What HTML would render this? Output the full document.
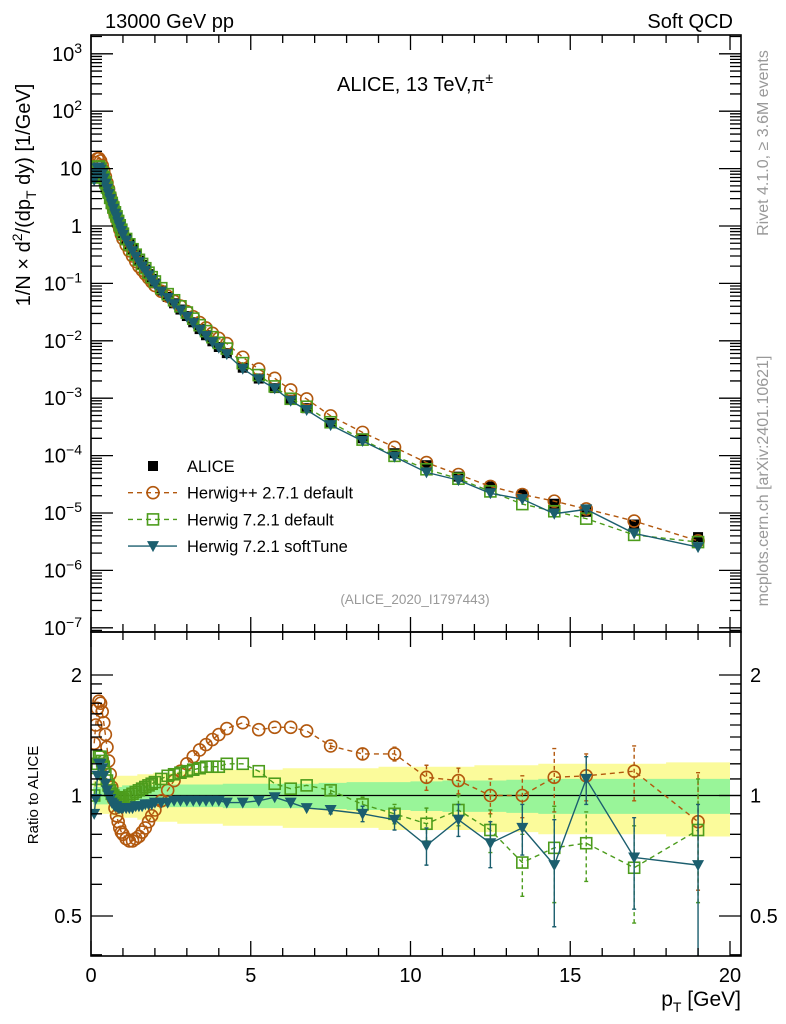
<!DOCTYPE html>
<html><head><meta charset="utf-8"><style>
html,body{margin:0;padding:0;background:#fff;}
svg{display:block;font-family:"Liberation Sans",sans-serif;}
</style></head><body>
<svg id="chart" width="786" height="1024" viewBox="0 0 786 1024" xmlns="http://www.w3.org/2000/svg">
<defs>
<clipPath id="clipTop"><rect x="91" y="35" width="650" height="597"/></clipPath>
<clipPath id="clipBot"><rect x="91" y="632" width="650" height="324"/></clipPath>
</defs>
<g id="bands" clip-path="url(#clipBot)"></g>
<g id="series-top" clip-path="url(#clipTop)"></g>
<g id="series-bot" clip-path="url(#clipBot)"></g>
<g id="axes"></g>
<text x="105" y="28" font-size="20">13000 GeV pp</text>
<text x="733" y="28" font-size="20" text-anchor="end">Soft QCD</text>
<text x="415" y="91" font-size="20" text-anchor="middle">ALICE, 13 TeV,π<tspan font-size="14" dy="-8">±</tspan></text>
<text transform="translate(30,195) rotate(-90)" font-size="20" text-anchor="middle">1/N × d<tspan font-size="14" dy="-8">2</tspan><tspan dy="8">/(dp</tspan><tspan font-size="14" dy="6">T</tspan><tspan dy="-6"> dy) [1/GeV]</tspan></text>
<text transform="translate(38,795) rotate(-90)" font-size="15" text-anchor="middle">Ratio to ALICE</text>
<text x="741" y="1006" font-size="21" text-anchor="end">p<tspan font-size="14" dy="6">T</tspan><tspan dy="-6"> [GeV]</tspan></text>
<text transform="translate(768,143) rotate(-90)" font-size="16" fill="#999" text-anchor="middle">Rivet 4.1.0, ≥ 3.6M events</text>
<text transform="translate(768,481) rotate(-90)" font-size="16" fill="#999" text-anchor="middle">mcplots.cern.ch [arXiv:2401.10621]</text>
<text x="415" y="604" font-size="13.5" fill="#999" text-anchor="middle">(ALICE_2020_I1797443)</text>
<g id="legend"></g>
</svg>
<script>
const pt = [0.1,0.15,0.2,0.25,0.3,0.35,0.4,0.45,0.5,0.55,0.6,0.65,0.7,0.75,0.8,0.85,0.9,0.95,1.0,1.1,1.2,1.3,1.4,1.5,1.6,1.7,1.8,1.9,2.0,2.2,2.4,2.6,2.8,3.0,3.2,3.4,3.6,3.8,4.0,4.25,4.75,5.25,5.75,6.25,6.75,7.5,8.5,9.5,10.5,11.5,12.5,13.5,14.5,15.5,17,19];
const alice = [7,8.5,9,8.7,8,7,6,5.1,4.3,3.6,3.0,2.5,2.1,1.75,1.5,1.25,1.05,0.88,0.75,0.6,0.48,0.39,0.31,0.25,0.21,0.175,0.145,0.12,0.1,0.075,0.058,0.045,0.035,0.027,0.021,0.016,0.0125,0.0098,0.0078,0.0061,0.0034,0.0022,0.0015,9.4e-4,6.7e-4,3.7e-4,2.0e-4,1.1e-4,6.8e-5,4.3e-5,2.9e-5,2.1e-5,1.45e-5,1.05e-5,6.3e-6,3.8e-6];
const ratioHpp = [1.35,1.5,1.65,1.72,1.7,1.62,1.52,1.42,1.32,1.22,1.13,1.05,0.98,0.93,0.89,0.86,0.83,0.81,0.8,0.78,0.77,0.77,0.78,0.79,0.81,0.83,0.86,0.89,0.92,0.97,1.03,1.09,1.15,1.2,1.25,1.3,1.34,1.38,1.42,1.47,1.52,1.46,1.48,1.48,1.45,1.33,1.27,1.27,1.11,1.09,1.0,1.0,1.11,1.12,1.15,0.86];
const ratioH7 = [1.0,1.1,1.2,1.25,1.25,1.22,1.18,1.13,1.09,1.06,1.03,1.01,1.0,0.99,0.98,0.98,0.98,0.98,0.98,0.99,1.0,1.01,1.02,1.03,1.04,1.05,1.06,1.07,1.08,1.1,1.12,1.13,1.14,1.15,1.16,1.17,1.18,1.18,1.18,1.2,1.2,1.15,1.07,1.04,1.06,1.03,0.95,0.9,0.85,0.92,0.82,0.68,0.74,0.76,0.66,0.82];
const ratioSoft = [0.9,0.98,1.12,1.2,1.2,1.17,1.12,1.07,1.03,1.0,0.98,0.96,0.95,0.94,0.94,0.93,0.93,0.93,0.93,0.93,0.93,0.93,0.94,0.94,0.94,0.95,0.95,0.95,0.96,0.96,0.96,0.97,0.97,0.97,0.97,0.97,0.97,0.97,0.97,0.96,0.96,0.97,0.99,0.96,0.93,0.92,0.9,0.87,0.75,0.87,0.76,0.83,0.67,1.1,0.7,0.67];
const mcErr = [0,0,0,0,0,0,0,0,0,0,0,0,0,0,0,0,0,0,0,0,0,0,0,0,0,0,0,0,0,0,0,0,0,0,0,0,0,0,0,0,0,0,0,0,0,0.02,0.04,0.05,0.08,0.08,0.1,0.12,0.2,0.15,0.18,0.28];
const bandInner = [0.05,0.05,0.05,0.05,0.05,0.05,0.05,0.05,0.05,0.05,0.05,0.05,0.05,0.05,0.05,0.05,0.05,0.05,0.06,0.06,0.06,0.06,0.06,0.06,0.06,0.06,0.06,0.06,0.06,0.065,0.065,0.065,0.065,0.065,0.065,0.065,0.065,0.065,0.065,0.07,0.07,0.07,0.07,0.07,0.07,0.075,0.08,0.08,0.085,0.09,0.09,0.095,0.1,0.1,0.1,0.1];
const bandOuter = [0.09,0.09,0.09,0.09,0.1,0.1,0.1,0.1,0.1,0.1,0.11,0.11,0.11,0.11,0.12,0.12,0.12,0.12,0.12,0.12,0.12,0.12,0.12,0.13,0.13,0.13,0.13,0.13,0.14,0.14,0.14,0.14,0.15,0.15,0.15,0.15,0.15,0.15,0.15,0.16,0.16,0.16,0.16,0.17,0.17,0.17,0.17,0.18,0.18,0.18,0.19,0.19,0.2,0.2,0.2,0.21];
const xTicks = [0,5,10,15,20];
const yTopTicks = [3,2,1,0,-1,-2,-3,-4,-5,-6,-7];
const ratioTicks = [0.5,1,2];

const NS='http://www.w3.org/2000/svg';
const X = v => 91 + v*31.95;
const Ytop = v => 226 - 57.4*Math.log10(v);
const Ybot = r => 795.5 - 120.5*Math.log2(r);
function mk(tag, attrs, parent){const e=document.createElementNS(NS,tag);for(const k in attrs)e.setAttribute(k,attrs[k]);parent.appendChild(e);return e;}
const C_HPP='#b2580e', C_H7='#4c9c1c', C_SOFT='#1b5e6e';

const bands=document.getElementById('bands');
function edges(i){const l=i===0?pt[0]-0.025:(pt[i-1]+pt[i])/2;const r=i===pt.length-1?20:(pt[i]+pt[i+1])/2;return [l,r];}
[[bandOuter,'#fbfb9b'],[bandInner,'#99f599']].forEach(([b,col])=>{
  let d='';
  for(let i=0;i<pt.length;i++){const [l,r]=edges(i);d+=(i===0?'M':'L')+X(l)+','+Ybot(1+b[i])+'L'+X(r)+','+Ybot(1+b[i]);}
  for(let i=pt.length-1;i>=0;i--){const [l,r]=edges(i);d+='L'+X(r)+','+Ybot(1-b[i])+'L'+X(l)+','+Ybot(1-b[i]);}
  const p=mk('path',{d:d+'Z',fill:col,stroke:'none'},bands);
  
  
});
const oneLine=mk('line',{x1:91,x2:741,y1:Ybot(1),y2:Ybot(1),stroke:'#000','stroke-width':1.2},bands);



function marker(type,cx,cy,col,g){
  if(type==='circle') return mk('circle',{cx:cx,cy:cy,r:6,fill:'none',stroke:col,'stroke-width':1.6},g);
  if(type==='square') return mk('rect',{x:cx-5.5,y:cy-5.5,width:11,height:11,fill:'none',stroke:col,'stroke-width':1.6},g);
  if(type==='tri') return mk('path',{d:`M${cx-6},${cy-5}L${cx+6},${cy-5}L${cx},${cy+6}Z`,fill:col},g);
  return mk('rect',{x:cx-5,y:cy-5,width:10,height:10,fill:'#000'},g);
}
const series=[
  {name:'herwigpp',ratio:ratioHpp,col:C_HPP,type:'circle',dash:'5,4'},
  {name:'herwig7-default',ratio:ratioH7,col:C_H7,type:'square',dash:'5,4'},
  {name:'herwig7-softtune',ratio:ratioSoft,col:C_SOFT,type:'tri',dash:''}
];
const gTop=document.getElementById('series-top'), gBot=document.getElementById('series-bot');
const ga=mk('g',{},gTop);


pt.forEach((p,i)=>{const m=marker('data',X(p),Ytop(alice[i]),'#000',ga);

});
series.forEach(s=>{
  const g1=mk('g',{},gTop);
  
  
  const g2=mk('g',{},gBot);
  
  
  const vals=pt.map((p,i)=>alice[i]*s.ratio[i]);
  mk('polyline',{points:pt.map((p,i)=>X(p)+','+Ytop(vals[i])).join(' '),fill:'none',stroke:s.col,'stroke-width':1.4,'stroke-dasharray':s.dash},g1);
  mk('polyline',{points:pt.map((p,i)=>X(p)+','+Ybot(s.ratio[i])).join(' '),fill:'none',stroke:s.col,'stroke-width':1.4,'stroke-dasharray':s.dash},g2);
  pt.forEach((p,i)=>{
    if(mcErr[i]>0){
      const lo=Math.max(s.ratio[i]-mcErr[i],0.3), hi=s.ratio[i]+mcErr[i];
      const eb=mk('path',{d:`M${X(p)},${Ybot(lo)}V${Ybot(hi)}M${X(p)-2},${Ybot(lo)}h4M${X(p)-2},${Ybot(hi)}h4`,stroke:s.col,'stroke-width':1.4,'stroke-dasharray':s.dash?'4,3':'',fill:'none'},g2);
      
      
    }
    const m1=marker(s.type,X(p),Ytop(vals[i]),s.col,g1);
    
    
    const m2=marker(s.type,X(p),Ybot(s.ratio[i]),s.col,g2);
    
    
  });
});

const ax=document.getElementById('axes');
[[91,35,650,597],[91,632,650,324]].forEach(([x,y,w,h],k)=>{
  const r=mk('rect',{x:x,y:y,width:w,height:h,fill:'none',stroke:'#000','stroke-width':1.6},ax);
  
  
});
let td='';
for(let v=0;v<=20;v++){const x=X(v);const L=(v%5===0)?15:8;
  td+=`M${x},632V${632-L}M${x},632V${632+L}M${x},35V${35+L}M${x},956V${956-L}`;}
for(let e=-8;e<=3;e++){for(let m=1;m<=9;m++){const v=m*Math.pow(10,e);const y=Ytop(v);if(y<35||y>632)continue;const L=m===1?22:11;td+=`M91,${y}h${L}M741,${y}h${-L}`;}}
[0.4,0.5,0.6,0.7,0.8,0.9,1,1.1,1.2,1.3,1.4,1.5,1.6,1.7,1.8,1.9,2].forEach(r=>{const y=Ybot(r);if(y<632||y>956)return;const L=(r===0.5||r===1||r===2)?22:11;td+=`M91,${y}h${L}M741,${y}h${-L}`;});
const tp=mk('path',{d:td,stroke:'#000','stroke-width':1.3,fill:'none'},ax);


xTicks.forEach(v=>{const t=mk('text',{x:X(v),y:982,'font-size':20,'text-anchor':'middle'},ax);t.textContent=v;

});
yTopTicks.forEach(e=>{const t=mk('text',{x:82,y:Ytop(Math.pow(10,e))+7,'font-size':20,'text-anchor':'end'},ax);
  if(e===0)t.textContent='1';else if(e===1)t.textContent='10';else{t.textContent='10';const s=mk('tspan',{'font-size':14,dy:-8},t);s.textContent=String(e).replace('-','−');}
  
  });
ratioTicks.forEach(r=>{[[82,'end'],[750,'start']].forEach(([x,a])=>{const t=mk('text',{x:x,y:Ybot(r)+7,'font-size':20,'text-anchor':a},ax);t.textContent=r;

});});

const lg=document.getElementById('legend');
const rows=[['ALICE','data','#000',''],['Herwig++ 2.7.1 default','circle',C_HPP,'5,4'],['Herwig 7.2.1 default','square',C_H7,'5,4'],['Herwig 7.2.1 softTune','tri',C_SOFT,'']];
rows.forEach((r,i)=>{const y=466+i*26.7;const g=mk('g',{},lg);
  
  
  if(r[1]!=='data')mk('line',{x1:128,x2:177,y1:y,y2:y,stroke:r[2],'stroke-width':1.4,'stroke-dasharray':r[3]},g);
  marker(r[1],153,y,r[2],g);
  const t=mk('text',{x:187,y:y+6,'font-size':16.5},g);t.textContent=r[0];});
</script>
</body></html>
